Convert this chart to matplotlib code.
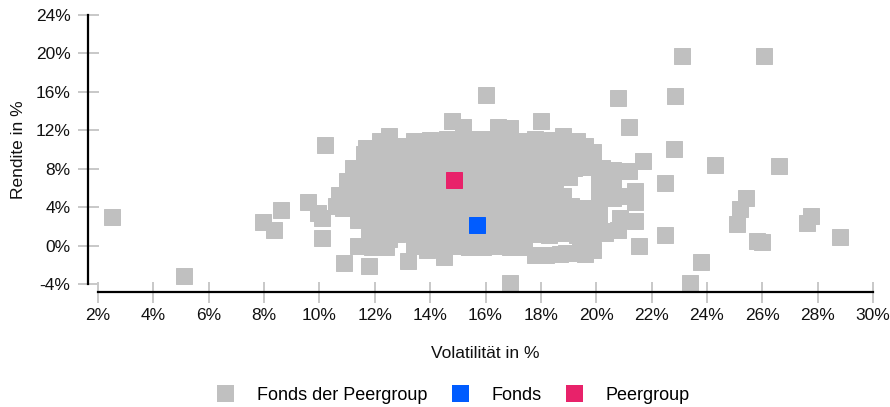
"""
Risk/return scatter: fund vs. peer group (Volatilität / Rendite).
Saves out.png
"""

import matplotlib
matplotlib.use("Agg")
import matplotlib.pyplot as plt
from matplotlib.lines import Line2D
from matplotlib.ticker import FixedLocator, FuncFormatter

# ---------------------------------------------------------------------------
# Data (values in %)
# ---------------------------------------------------------------------------

peer_vol = [
    # outliers left
    2.5, 5.1, 7.96, 8.6, 8.36, 9.6, 9.95, 10.1, 10.1, 10.2,
    # upper edge
    16.0, 14.8, 15.2, 16.45, 16.9, 18.0, 18.8, 12.5, 12.2, 11.7, 13.6, 12.9, 13.0,
    # row ~11
    13.4, 14.0, 14.6, 15.1, 15.7, 16.2, 16.8, 17.3, 17.8, 18.4, 18.9, 19.3, 19.6,
    # row ~9.6
    11.6, 12.1, 12.6, 13.1, 13.6, 14.1, 14.6, 15.1, 15.6, 16.1, 16.6, 17.1,
    17.6, 18.1, 18.6, 19.1, 19.6,
    # row ~8.2
    11.2, 11.7, 12.2, 12.7, 13.2, 13.7, 14.2, 14.7, 15.2, 15.7, 16.2, 16.7,
    17.2, 17.7, 18.2, 18.7, 19.2, 19.7, 20.2, 20.6,
    # row ~6.8
    11.0, 11.5, 12.0, 12.5, 13.0, 13.5, 14.0, 14.5, 15.0, 15.5, 16.0, 16.5,
    17.0, 17.5, 18.0, 18.5, 19.0, 20.1, 20.6,
    # row ~5.4
    10.7, 11.3, 11.8, 12.3, 12.8, 13.3, 13.8, 14.3, 14.8, 15.3, 15.8, 16.3,
    16.8, 17.3, 17.8, 18.3, 18.8, 20.1, 20.6, 21.1,
    # row ~4.0
    10.6, 11.1, 11.6, 12.1, 12.6, 13.1, 13.6, 14.1, 14.6, 15.1, 15.6, 16.1,
    16.6, 17.1, 17.6, 18.1, 18.6, 19.1, 19.6, 20.1,
    # row ~2.6
    11.4, 11.9, 12.4, 12.9, 13.4, 13.9, 14.4, 14.9, 15.4, 15.9, 16.4, 16.9,
    17.4, 17.9, 18.4, 18.9, 19.4, 19.9,
    # row ~1.2
    11.8, 12.3, 12.8, 13.3, 13.8, 14.3, 14.8, 15.3, 15.8, 16.3, 16.8, 17.3,
    17.8, 18.3, 18.8, 19.3, 19.8, 20.3,
    # row ~0
    11.4, 11.9, 12.4, 13.4, 13.9, 14.4, 14.9, 15.4, 15.9, 16.4, 16.9, 17.4,
    19.4,
    # lower edge
    13.9, 14.5, 15.4, 16.3, 17.0, 17.8, 18.2, 18.7, 19.1, 19.6, 18.9, 16.9,
    # left edge
    10.85, 11.36, 11.4, 11.2, 10.9, 11.8, 12.0, 12.5, 13.2,
    # right edge
    19.9, 20.5, 20.6, 20.1, 20.85, 21.4, 20.8, 21.4, 21.4, 21.2, 21.7, 20.5,
    20.2, 19.9, 21.55,
    # outliers right
    23.1, 26.06, 20.8, 22.85, 21.2, 22.8, 24.3, 26.6, 22.5, 25.4, 25.2, 25.1,
    25.8, 26.0, 27.75, 27.6, 28.8, 22.5, 23.8, 23.4,
]

peer_ret = [
    # outliers left
    3.0, -3.2, 2.5, 3.7, 1.6, 4.5, 3.4, 0.8, 2.9, 10.5,
    # upper edge
    15.7, 13.0, 12.3, 12.3, 12.2, 13.0, 11.4, 11.4, 10.9, 10.2, 10.2, 9.1, 10.4,
    # row ~11
    10.9, 11.0, 11.1, 11.0, 11.1, 11.1, 11.0, 10.9, 11.1, 11.0, 10.9, 10.9, 10.4,
    # row ~9.6
    9.5, 9.6, 9.7, 9.5, 9.6, 9.6, 9.7, 9.5, 9.6, 9.7, 9.6, 9.5,
    9.7, 9.6, 9.6, 9.5, 9.6,
    # row ~8.2
    8.1, 8.3, 8.2, 8.1, 8.2, 8.2, 8.3, 8.1, 8.2, 8.3, 8.1, 8.2,
    8.3, 8.1, 8.2, 8.2, 8.1, 8.2, 8.1, 7.9,
    # row ~6.8
    6.7, 6.9, 6.8, 6.9, 6.7, 6.8, 6.8, 6.7, 6.9, 6.8, 6.9, 6.7,
    6.8, 6.8, 6.7, 6.9, 7.1, 6.7, 6.6,
    # row ~5.4
    5.3, 5.5, 5.4, 5.5, 5.3, 5.4, 5.5, 5.3, 5.4, 5.5, 5.3, 5.4,
    5.5, 5.3, 5.4, 5.5, 5.2, 5.3, 5.4, 5.2,
    # row ~4.0
    4.1, 3.9, 4.0, 4.1, 3.9, 4.0, 4.1, 3.9, 4.0, 4.1, 3.9, 4.0,
    4.0, 3.9, 4.1, 3.9, 4.0, 4.1, 3.9, 4.0,
    # row ~2.6
    2.7, 2.5, 2.6, 2.7, 2.5, 2.6, 2.7, 2.5, 2.6, 2.7, 2.5, 2.6,
    2.6, 2.5, 2.7, 2.5, 2.6, 2.7,
    # row ~1.2
    1.3, 1.1, 1.2, 1.3, 1.1, 1.2, 1.3, 1.1, 1.2, 1.3, 1.1, 1.2,
    1.2, 1.1, 1.3, 1.1, 1.2, 1.3,
    # row ~0
    0.0, -0.2, -0.1, 0.0, -0.2, -0.1, 0.0, -0.2, -0.1, 0.0, -0.2, -0.1,
    0.0,
    # lower edge
    -0.5, -1.2, -0.2, 0.0, 0.2, -1.0, -1.0, -0.9, -0.8, -0.9, -0.8, -3.85,
    # left edge
    3.95, 5.0, 7.1, 6.0, -1.8, -2.1, 1.25, 0.7, -1.6,
    # right edge
    9.7, 7.5, 5.0, 2.9, 2.9, 2.6, 1.6, 4.5, 5.7, 7.8, 8.8, 6.4,
    1.55, -0.5, 0.0,
    # outliers right
    19.75, 19.75, 15.4, 15.6, 12.3, 10.1, 8.4, 8.3, 6.5, 5.0, 3.85, 2.2,
    0.5, 0.35, 3.1, 2.3, 0.9, 1.15, -1.7, -3.85,
]

fund_vol = [15.7]
fund_ret = [2.1]
group_vol = [14.86]
group_ret = [6.86]

x_ticks = list(range(2, 31, 2))
y_ticks = list(range(-4, 25, 4))

GRAY = "#c0c0c0"
BLUE = "#005cff"
PINK = "#e8226a"
TICK_GRAY = "#c8c8c8"

PX = 72 / 100  # one pixel in points at dpi 100

# ---------------------------------------------------------------------------
# Chart
# ---------------------------------------------------------------------------


def square(ax, xs, ys, color, z):
    # edge in the same colour closes the anti-aliasing seams between squares
    ax.plot(xs, ys, ls="none", marker="s", ms=16 * PX, mew=1 * PX,
            color=color, mec=color, clip_on=False, zorder=z)


def main() -> None:
    plt.rcParams["font.family"] = ["Liberation Sans", "DejaVu Sans"]

    fig = plt.figure(figsize=(8.9, 4.07), dpi=100)
    ax = fig.add_axes([98 / 890, 1 - 284 / 407, 775 / 890, 269 / 407])

    square(ax, peer_vol, peer_ret, GRAY, 3)
    square(ax, fund_vol, fund_ret, BLUE, 4)
    square(ax, group_vol, group_ret, PINK, 4)

    ax.set_xlim(2, 30)
    ax.set_ylim(-4, 24)
    pct = FuncFormatter(lambda v, _: f"{v:.0f}%")
    ax.xaxis.set_major_locator(FixedLocator(x_ticks))
    ax.yaxis.set_major_locator(FixedLocator(y_ticks))
    ax.xaxis.set_major_formatter(pct)
    ax.yaxis.set_major_formatter(pct)

    for side in ("top", "right"):
        ax.spines[side].set_visible(False)
    ax.spines["left"].set_position(("outward", 10 * PX))
    ax.spines["bottom"].set_position(("outward", 8 * PX))
    for side in ("left", "bottom"):
        ax.spines[side].set_linewidth(1.6)
        ax.spines[side].set_color("black")
        ax.spines[side].set_zorder(5)

    ax.tick_params(axis="both", direction="inout", length=21 * PX, width=1.4,
                   color=TICK_GRAY, labelsize=12.5, labelcolor="#111111")
    ax.tick_params(axis="y", pad=7 * PX)
    ax.tick_params(axis="x", pad=6 * PX)

    ax.set_xlabel("Volatilität in %", fontsize=12.5, color="#111111")
    ax.set_ylabel("Rendite in %", fontsize=12.5, color="#111111")
    ax.xaxis.set_label_coords(0.5, -0.232)
    ax.yaxis.set_label_coords(-0.093, 0.5)

    handles = [
        Line2D([], [], ls="none", marker="s", ms=17 * PX, mew=0, color=c)
        for c in (GRAY, BLUE, PINK)
    ]
    fig.legend(handles, ["Fonds der Peergroup", "Fonds", "Peergroup"],
               loc="center", bbox_to_anchor=(453 / 890, 1 - 395 / 407),
               ncol=3, frameon=False, fontsize=13, handlelength=1.0,
               handletextpad=1.25, columnspacing=1.3, borderpad=0)

    fig.savefig("out.png", dpi=100)
    plt.close(fig)


if __name__ == "__main__":
    main()
